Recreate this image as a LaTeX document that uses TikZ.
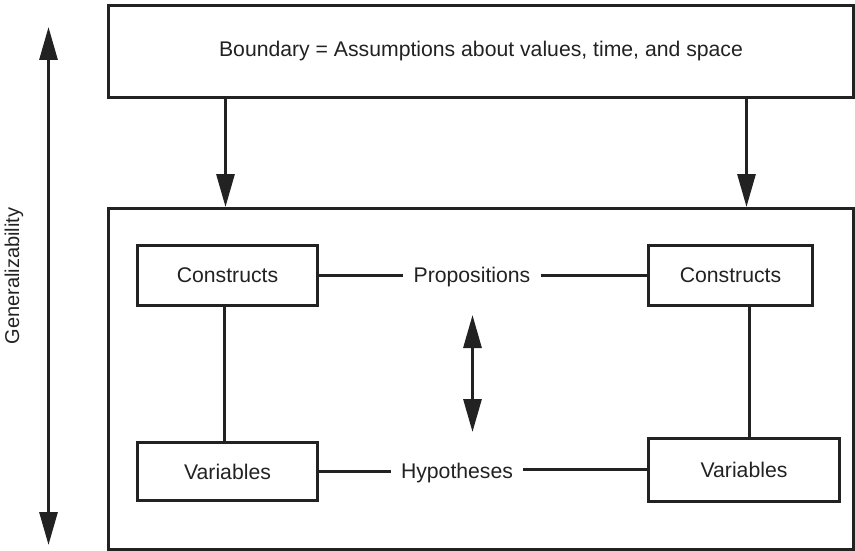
\documentclass[tikz,border=0pt]{standalone}
\usepackage{fontspec}
\setmainfont{Liberation Sans}
\usetikzlibrary{arrows.meta}
\definecolor{ink}{HTML}{222222}
\begin{document}
\begin{tikzpicture}[x=1pt,y=-1pt,
  every node/.style={text=ink, font=\fontsize{21.2}{25}\selectfont},
  box/.style={draw=ink, line width=3pt, inner sep=0pt, fill=white},
  lbl/.style={inner sep=10pt},
  link/.style={draw=ink, line width=3pt},
  arr/.style={link, -{Triangle[length=33pt,width=18pt]}},
  darr/.style={link, {Triangle[length=33pt,width=18pt]}-{Triangle[length=33pt,width=18pt]}}]
\useasboundingbox (0,0) rectangle (855,551);

% outer boxes
\node[box, minimum width=745pt, minimum height=92pt] (boundary) at (481,51.5)
  {Boundary = Assumptions about values, time, and space};
\node[box, minimum width=745pt, minimum height=341pt] (frame) at (481,379) {};

% inner boxes
\node[box, minimum width=180pt, minimum height=60pt] (c1) at (227.5,275.5) {Constructs};
\node[box, minimum width=164pt, minimum height=60pt] (c2) at (730.5,275.5) {Constructs};
\node[box, minimum width=180pt, minimum height=58pt] (v1) at (227.5,471.5) {Variables};
\node[box, minimum width=191pt, minimum height=63pt] (v2) at (744,469.5) {Variables};

% link labels
\node[lbl] (prop) at (472,277) {Propositions};
\node[lbl] (hyp) at (457,473) {Hypotheses};

% horizontal links
\draw[link] (c1.east) -- (c1.east -| prop.west);
\draw[link] (prop.east |- c2.west) -- (c2.west);
\draw[link] (v1.east) -- (v1.east -| hyp.west);
\draw[link] (hyp.east |- v2.west) -- (v2.west);

% vertical links
\draw[link] ([xshift=-3pt]c1.south) -- ([xshift=-3pt]v1.north);
\coordinate (c2link) at ([xshift=19pt]c2.south);
\draw[link] (c2link) -- (c2link |- v2.north);

% boundary arrows
\draw[arr] (boundary.south -| 225.5,0) -- (frame.north -| 225.5,0);
\draw[arr] (boundary.south -| 746.5,0) -- (frame.north -| 746.5,0);

% propositions <-> hypotheses
\coordinate (mtop) at (472.5,315);
\coordinate (mbot) at (472.5,432);
\draw[darr] (mtop) -- (mbot);

% generalizability axis
\coordinate (gtop) at (48.5,27);
\coordinate (gbot) at (48.5,545);
\draw[darr] (gtop) -- (gbot);
\node[rotate=90, font=\fontsize{20}{24}\selectfont] (gen) at (14,276) {Generalizability};
\end{tikzpicture}
\end{document}
